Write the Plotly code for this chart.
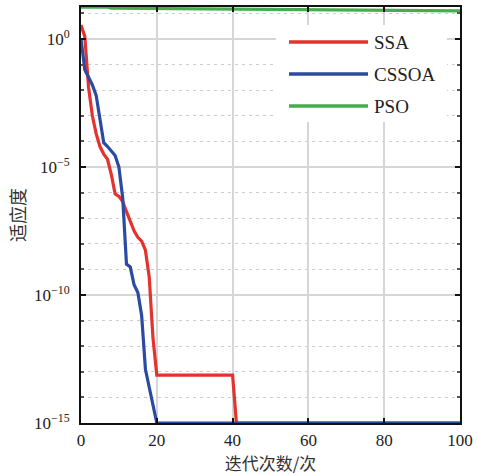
import plotly.graph_objects as go

# ---- data ----
iters_ssa = list(range(0, 21)) + [40, 41, 100]
ssa = [3.5, 1.26, 1.26e-2, 1e-3, 2e-4, 6.3e-5, 3.2e-5, 2e-5, 5e-6, 8.9e-7,
       7.1e-7, 4.5e-7, 1.8e-7, 7.1e-8, 3.2e-8, 1.8e-8, 1.26e-8, 5.6e-9,
       5e-10, 2e-12, 7.4e-14, 7.4e-14, 1e-15, 1e-15]

iters_cssoa = list(range(0, 21)) + [100]
cssoa = [1.0, 6.3e-2, 3.2e-2, 1.6e-2, 6.3e-3, 6.3e-4, 8.9e-5, 6.3e-5, 4e-5,
         2.8e-5, 1e-5, 6.3e-7, 1.6e-9, 1.26e-9, 2.5e-10, 1.26e-10, 1.6e-11,
         1.26e-13, 2.5e-14, 5e-15, 1e-15, 1e-15]

iters_pso = [0, 7, 8, 20, 40, 60, 80, 100]
pso = [17.6, 17.6, 16.0, 15.5, 15.0, 13.5, 13.0, 12.5]

series_names = ["SSA", "CSSOA", "PSO"]
series_colors = ["#e3332e", "#2b4ba3", "#45ad4f"]

x_ticks = [0, 20, 40, 60, 80, 100]
y_ticks = [1e-15, 1e-10, 1e-5, 1]
y_ticktext = ["10<sup>−15</sup>", "10<sup>−10</sup>", "10<sup>−5</sup>", "10<sup>0</sup>"]
y_minor = [10.0 ** k for k in range(-14, 2)]

x_title = "迭代次数/次"
y_title = "适应度"

# ---- figure ----
fig = go.Figure()
for xs, ys, name, col in zip([iters_ssa, iters_cssoa, iters_pso],
                             [ssa, cssoa, pso], series_names, series_colors):
    fig.add_trace(go.Scatter(x=xs, y=ys, mode="lines", name=name,
                             line=dict(color=col, width=3.2),
                             cliponaxis=False, showlegend=False))

W, H = 478, 475
L, R, T, B = 81, 18, 7, 52
pw, ph = W - L - R, H - T - B

def px(xp):
    return (xp - L) / pw

def py(yp):
    return (H - B - yp) / ph

serif = "Liberation Serif"
cjk = "Noto Sans CJK SC"

fig.update_layout(
    width=W, height=H,
    margin=dict(l=L, r=R, t=T, b=B, autoexpand=False),
    paper_bgcolor="white", plot_bgcolor="white",
    font=dict(family=serif, size=17, color="#222"),
    xaxis=dict(
        range=[0, 100], tickmode="array", tickvals=x_ticks, automargin=False,
        ticks="inside", ticklen=5, tickwidth=1.5, tickcolor="#111",
        showline=True, linecolor="#111", linewidth=2, mirror="ticks",
        showgrid=True, gridcolor="#d6d6d6", gridwidth=1.5,
        zeroline=False, ticklabelstandoff=1,
        tickfont=dict(family=serif, size=17, color="#222"),
        title=dict(text=x_title, font=dict(family=cjk, size=17, color="#333"), standoff=11),
    ),
    yaxis=dict(
        type="log", range=[-15, 1.25], tickmode="array", automargin=False,
        tickvals=y_ticks, ticktext=y_ticktext,
        ticks="inside", ticklen=5, tickwidth=1.5, tickcolor="#111",
        showline=True, linecolor="#111", linewidth=2, mirror="ticks",
        showgrid=True, gridcolor="#d6d6d6", gridwidth=1.5,
        zeroline=False, ticklabelstandoff=6,
        tickfont=dict(family=serif, size=17, color="#222"),
        minor=dict(tickmode="array", tickvals=y_minor, ticks="inside",
                   ticklen=3, tickcolor="#555", showgrid=True,
                   gridcolor="#cccccc", gridwidth=1.3, griddash="3px,4px"),
        title=dict(text=y_title, font=dict(family=cjk, size=18, color="#333"), standoff=4),
    ),
)

# legend box (drawn like the reference: long line samples, no border)
fig.add_shape(type="rect", xref="paper", yref="paper",
              x0=px(276), x1=px(447), y0=py(122), y1=py(25),
              fillcolor="white", line=dict(width=0), layer="above")
for i, (name, col) in enumerate(zip(series_names, series_colors)):
    yy = 42 + 32 * i
    fig.add_shape(type="line", xref="paper", yref="paper",
                  x0=px(289), x1=px(368), y0=py(yy), y1=py(yy),
                  line=dict(color=col, width=3.5), layer="above")
    fig.add_annotation(x=px(372), y=py(yy), xref="paper", yref="paper",
                       text=name, showarrow=False, xanchor="left", yanchor="middle",
                       font=dict(family=serif, size=19, color="#222"))

fig.write_html("out.html", config={"displayModeBar": False},
               post_script="document.body.style.margin='0px';document.body.style.overflow='hidden';")
